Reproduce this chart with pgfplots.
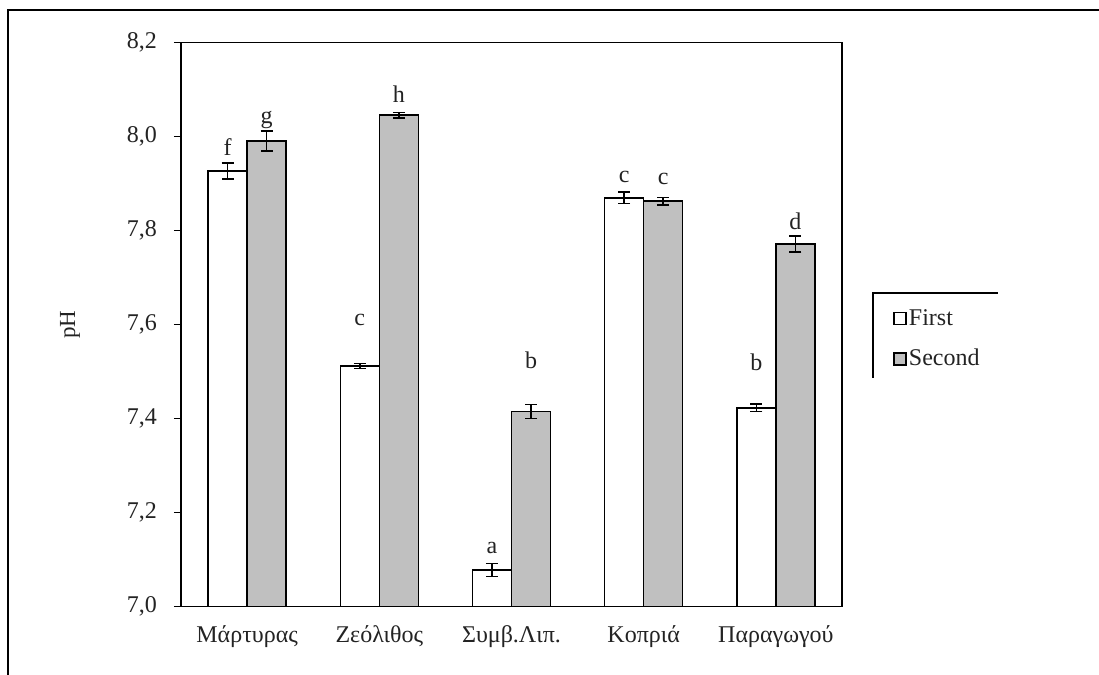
\documentclass[border=0pt]{standalone}
\usepackage{pgfplots}
\pgfplotsset{compat=1.18}
\usepackage{fontspec}
\setmainfont{Liberation Serif}
\definecolor{barg}{RGB}{192,192,192}
\definecolor{txt}{RGB}{35,35,35}
\tikzset{lab/.style={font=\fontsize{12}{14}\selectfont, inner sep=0pt, text=txt}}
\begin{document}
\begin{tikzpicture}[x=1pt,y=1pt]
\path[use as bounding box] (0,0) rectangle (549.5,337.5);
\draw[line width=1pt] (4,0) -- (4,332.5) -- (549.5,332.5);
\begin{axis}[at={(90.5pt,34.15pt)}, anchor=south west, scale only axis,
  width=330.5pt, height=282pt,
  xmin=-0.5, xmax=4.5, ymin=7, ymax=8.2,
  ybar, bar width=0.295,
  xtick={0,1,2,3,4},
  xticklabels={Μάρτυρας,Ζεόλιθος,Συμβ.Λιπ.,Κοπριά,Παραγωγού},
  xtick style={draw=none},
  xticklabel style={yshift=-2.5pt},
  ytick={7,7.2,7.4,7.6,7.8,8,8.2}, ytick pos=left,
  yticklabels={7{,}0,7{,}2,7{,}4,7{,}6,7{,}8,8{,}0,8{,}2},
  yticklabel style={xshift=-5pt},
  tick align=outside, major tick length=3.5pt,
  ytick style={line width=0.75pt, black},
  tick label style={font=\fontsize{12}{14}\selectfont, text=txt},
  axis line style={line width=0.75pt},
  ylabel={pH},
  ylabel style={at={(axis description cs:-0.1679,0.5)}, anchor=center, font=\fontsize{11.5}{13}\selectfont, text=txt},
  legend cell align=left,
  legend style={at={(axis description cs:1.0772,0.5317)}, anchor=north west, draw=none, fill=none,
    inner sep=0pt, row sep=8.5pt, font=\fontsize{12}{14}\selectfont, text=txt,
    nodes={inner sep=1pt}},
  legend image code/.code={\draw[#1, line width=0.75pt] (0pt,-3pt) rectangle (6pt,3pt);},
]
\addplot[bar shift=-0.1477, fill=white, draw=black, line width=0.75pt,
  error bars/.cd, y dir=both, y explicit,
  error bar style={line width=0.75pt, black},
  error mark options={line width=0.75pt, mark size=3pt, black, rotate=90}]
  coordinates {
  (0,7.927) +- (0,0.017)
  (1,7.512) +- (0,0.005)
  (2,7.078) +- (0,0.014)
  (3,7.870) +- (0,0.012)
  (4,7.423) +- (0,0.008)
  };
\addlegendentry{First}
\addplot[bar shift=0.1477, fill=barg, draw=black, line width=0.75pt,
  error bars/.cd, y dir=both, y explicit,
  error bar style={line width=0.75pt, black},
  error mark options={line width=0.75pt, mark size=3pt, black, rotate=90}]
  coordinates {
  (0,7.991) +- (0,0.021)
  (1,8.046) +- (0,0.006)
  (2,7.415) +- (0,0.015)
  (3,7.863) +- (0,0.008)
  (4,7.772) +- (0,0.017)
  };
\addlegendentry{Second}
\node[lab] at (axis cs:-0.1477,7.977) {f};
\node[lab] at (axis cs:0.1477,8.035) {g};
\node[lab] at (axis cs:0.8523,7.610) {c};
\node[lab] at (axis cs:1.1477,8.091) {h};
\node[lab] at (axis cs:1.8523,7.125) {a};
\node[lab] at (axis cs:2.1477,7.525) {b};
\node[lab] at (axis cs:2.8523,7.914) {c};
\node[lab] at (axis cs:3.1477,7.910) {c};
\node[lab] at (axis cs:3.8523,7.519) {b};
\node[lab] at (axis cs:4.1477,7.821) {d};
\draw[line width=0.75pt] (axis cs:-0.5,7) -- ++(0,-4pt);
\draw[line width=0.75pt] (axis cs:4.5,7) -- ++(0,-4pt);
\end{axis}
\draw[line width=0.75pt] (436.5,148.5) -- (436.5,191) -- (499,191);
\end{tikzpicture}
\end{document}
